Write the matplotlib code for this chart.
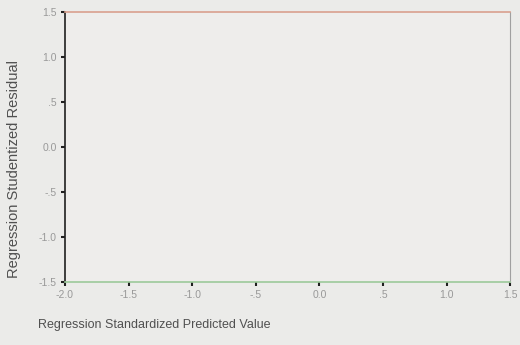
import numpy as np
import matplotlib
matplotlib.use("Agg")
import matplotlib.pyplot as plt

plt.rcParams['font.family'] = ['Liberation Sans', 'DejaVu Sans']

# --- DATA : axis ticks (no visible points)
x_ticks = [-2.0, -1.5, -1.0, -0.5, 0.0, 0.5, 1.0, 1.5]
x_labels = ["-2.0", "-1.5", "-1.0", "-.5", "0.0", ".5", "1.0", "1.5"]
y_ticks = [-1.5, -1.0, -0.5, 0.0, 0.5, 1.0, 1.5]
y_labels = ["-1.5", "-1.0", "-.5", "0.0", ".5", "1.0", "1.5"]
pred = []   # standardized predicted values
resid = []  # studentized residuals

bg = "#ebebe9"

# --- PLOT
fig = plt.figure(figsize=(5.2, 3.45), dpi=100, facecolor=bg)
ax = fig.add_axes([0.125, 0.183, 0.856, 0.782])
ax.set_facecolor("#eeedeb")
ax.scatter(pred, resid, s=8, color="black")

ax.set_xlim(-2.0, 1.5)
ax.set_ylim(-1.5, 1.5)
ax.set_xticks(x_ticks)
ax.set_xticklabels(x_labels)
ax.set_yticks(y_ticks)
ax.set_yticklabels(y_labels)

ax.spines["left"].set_color("#202020")
ax.spines["left"].set_linewidth(1.2)
ax.spines["bottom"].set_color("#9cc99a")
ax.spines["bottom"].set_linewidth(1.2)
ax.spines["top"].set_color("#d9a08e")
ax.spines["top"].set_linewidth(1.2)
ax.spines["right"].set_color("#a0a0a0")
ax.spines["right"].set_linewidth(0.8)

ax.tick_params(axis="both", direction="out", length=3, width=1.5,
               color="#202020", labelsize=7.5, labelcolor="#999999", pad=3)

fig.text(0.027, 0.51, "Regression Studentized Residual", rotation=90,
         fontsize=10.5, color="#505050", ha="center", va="center")
fig.text(0.073, 0.058, "Regression Standardized Predicted Value",
         fontsize=9, color="#505050", ha="left", va="center")

plt.savefig("out.png", dpi=100, facecolor=bg)
